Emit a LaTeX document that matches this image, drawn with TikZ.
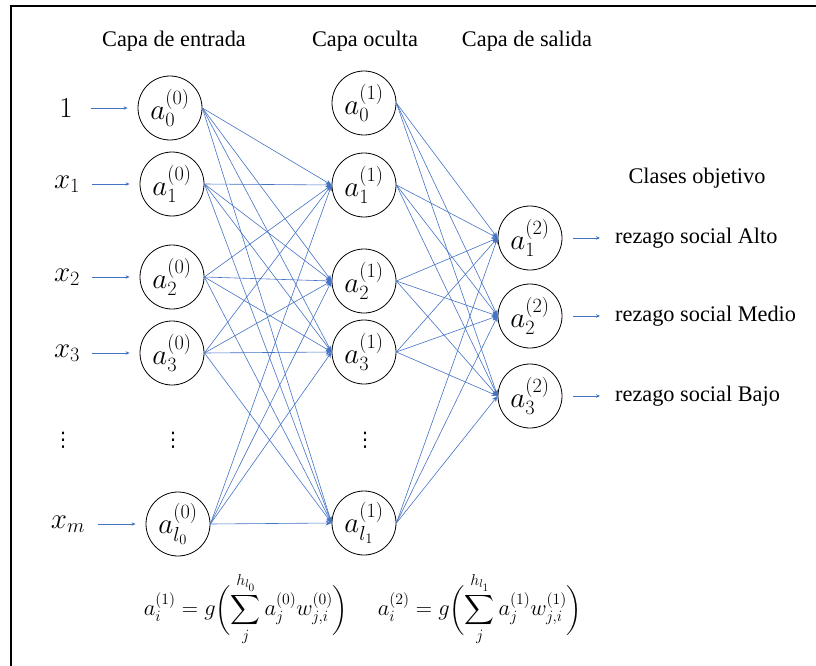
\RequirePackage{fix-cm}
\documentclass[tikz,border=0pt]{standalone}
\usepackage{amsmath}
\usepackage{fontspec}
\setmainfont{Liberation Serif}
\newfontfamily\symfont{DejaVu Sans}
\usetikzlibrary{arrows.meta}
\definecolor{edgeblue}{RGB}{68,114,196}
\begin{document}
\begin{tikzpicture}[x=1pt,y=-1pt,
  neuron/.style={draw, circle, minimum size=64pt, inner sep=0pt, line width=0.8pt, font=\fontsize{29}{33}\selectfont},
  conn/.style={draw=edgeblue, line width=0.6pt, -{Stealth[length=6pt,width=5pt]}},
  inarrow/.style={draw=edgeblue, line width=0.8pt, -{Stealth[length=4pt,width=3.5pt]}, shorten <=5pt, shorten >=10pt},
  outarrow/.style={draw=edgeblue, line width=0.8pt, -{Stealth[length=4pt,width=3.5pt]}, shorten <=11pt, shorten >=15pt},
  txt/.style={font=\fontsize{22.3}{26}\selectfont, inner sep=0pt},
  mlab/.style={font=\fontsize{29}{33}\selectfont, minimum width=40pt, inner sep=0pt},
  dotsl/.style={font=\symfont\fontsize{20}{24}\selectfont, inner sep=0pt},
  formula/.style={font=\fontsize{22.5}{27}\selectfont, inner sep=0pt}
]
\useasboundingbox (0,0) rectangle (816,666);
\draw[line width=2.5pt] (816,6) -- (11,6) -- (11,666);

% headers
\node[txt] (hin) at (174,41) {Capa de entrada};
\node[txt] (hhid) at (365,41) {Capa oculta};
\node[txt] (hout) at (527,41) {Capa de salida};
\node[txt] (hcls) at (697,178) {Clases objetivo};

% input layer
\node[neuron] (i0) at (170,108) {$a_0^{(0)}$};
\node[neuron] (i1) at (172,184) {$a_1^{(0)}$};
\node[neuron] (i2) at (172,277) {$a_2^{(0)}$};
\node[neuron] (i3) at (172,353) {$a_3^{(0)}$};
\node[dotsl] (id) at (173,440) {⋮};
\node[neuron] (il) at (178,524) {$a_{l_0}^{(0)}$};

% hidden layer
\node[neuron] (h0) at (364,103) {$a_0^{(1)}$};
\node[neuron] (h1) at (364,185) {$a_1^{(1)}$};
\node[neuron] (h2) at (364,281) {$a_2^{(1)}$};
\node[neuron] (h3) at (364,352) {$a_3^{(1)}$};
\node[dotsl] (hd) at (365,440) {⋮};
\node[neuron] (hl) at (364,523) {$a_{l_1}^{(1)}$};

% output layer
\node[neuron] (o1) at (530,238) {$a_1^{(2)}$};
\node[neuron] (o2) at (530,316) {$a_2^{(2)}$};
\node[neuron] (o3) at (530,396) {$a_3^{(2)}$};

% input labels
\node[mlab] (x0) at (66,108) {$1$};
\node[mlab] (x1) at (67,184) {$x_1$};
\node[mlab] (x2) at (67,277) {$x_2$};
\node[mlab] (x3) at (67,353) {$x_3$};
\node[dotsl] (xd) at (63,440) {⋮};
\node[mlab] (xm) at (68,524) {$x_m$};

\draw[inarrow] (x0.east) -- (i0.west);
\draw[inarrow] (x1.east) -- (i1.west);
\draw[inarrow] (x2.east) -- (i2.west);
\draw[inarrow] (x3.east) -- (i3.west);
\draw[inarrow, shorten <=10pt] (xm.east) -- (il.west);

% connections input -> hidden
\foreach \s in {i0,i1,i2,i3,il}
  \foreach \t in {h1,h2,h3,hl}
    \draw[conn] (\s.east) -- (\t.west);

% connections hidden -> output
\foreach \s in {h0,h1,h2,h3,hl}
  \foreach \t in {o1,o2,o3}
    \draw[conn] (\s.east) -- (\t.west);

% output labels
\node[txt, anchor=west] (r1) at (615,238) {rezago social Alto};
\node[txt, anchor=west] (r2) at (615,316) {rezago social Medio};
\node[txt, anchor=west] (r3) at (615,396) {rezago social Bajo};
\draw[outarrow] (o1.east) -- (r1.west);
\draw[outarrow] (o2.east) -- (r2.west);
\draw[outarrow] (o3.east) -- (r3.west);

% formulas
\node[formula] (f1) at (246,609) {$\displaystyle a_i^{(1)} = g\biggl(\sum_{j}^{h_{l_0}} a_j^{(0)} w_{j,i}^{(0)}\biggr)$};
\node[formula] (f2) at (480,609) {$\displaystyle a_i^{(2)} = g\biggl(\sum_{j}^{h_{l_1}} a_j^{(1)} w_{j,i}^{(1)}\biggr)$};
\end{tikzpicture}
\end{document}
